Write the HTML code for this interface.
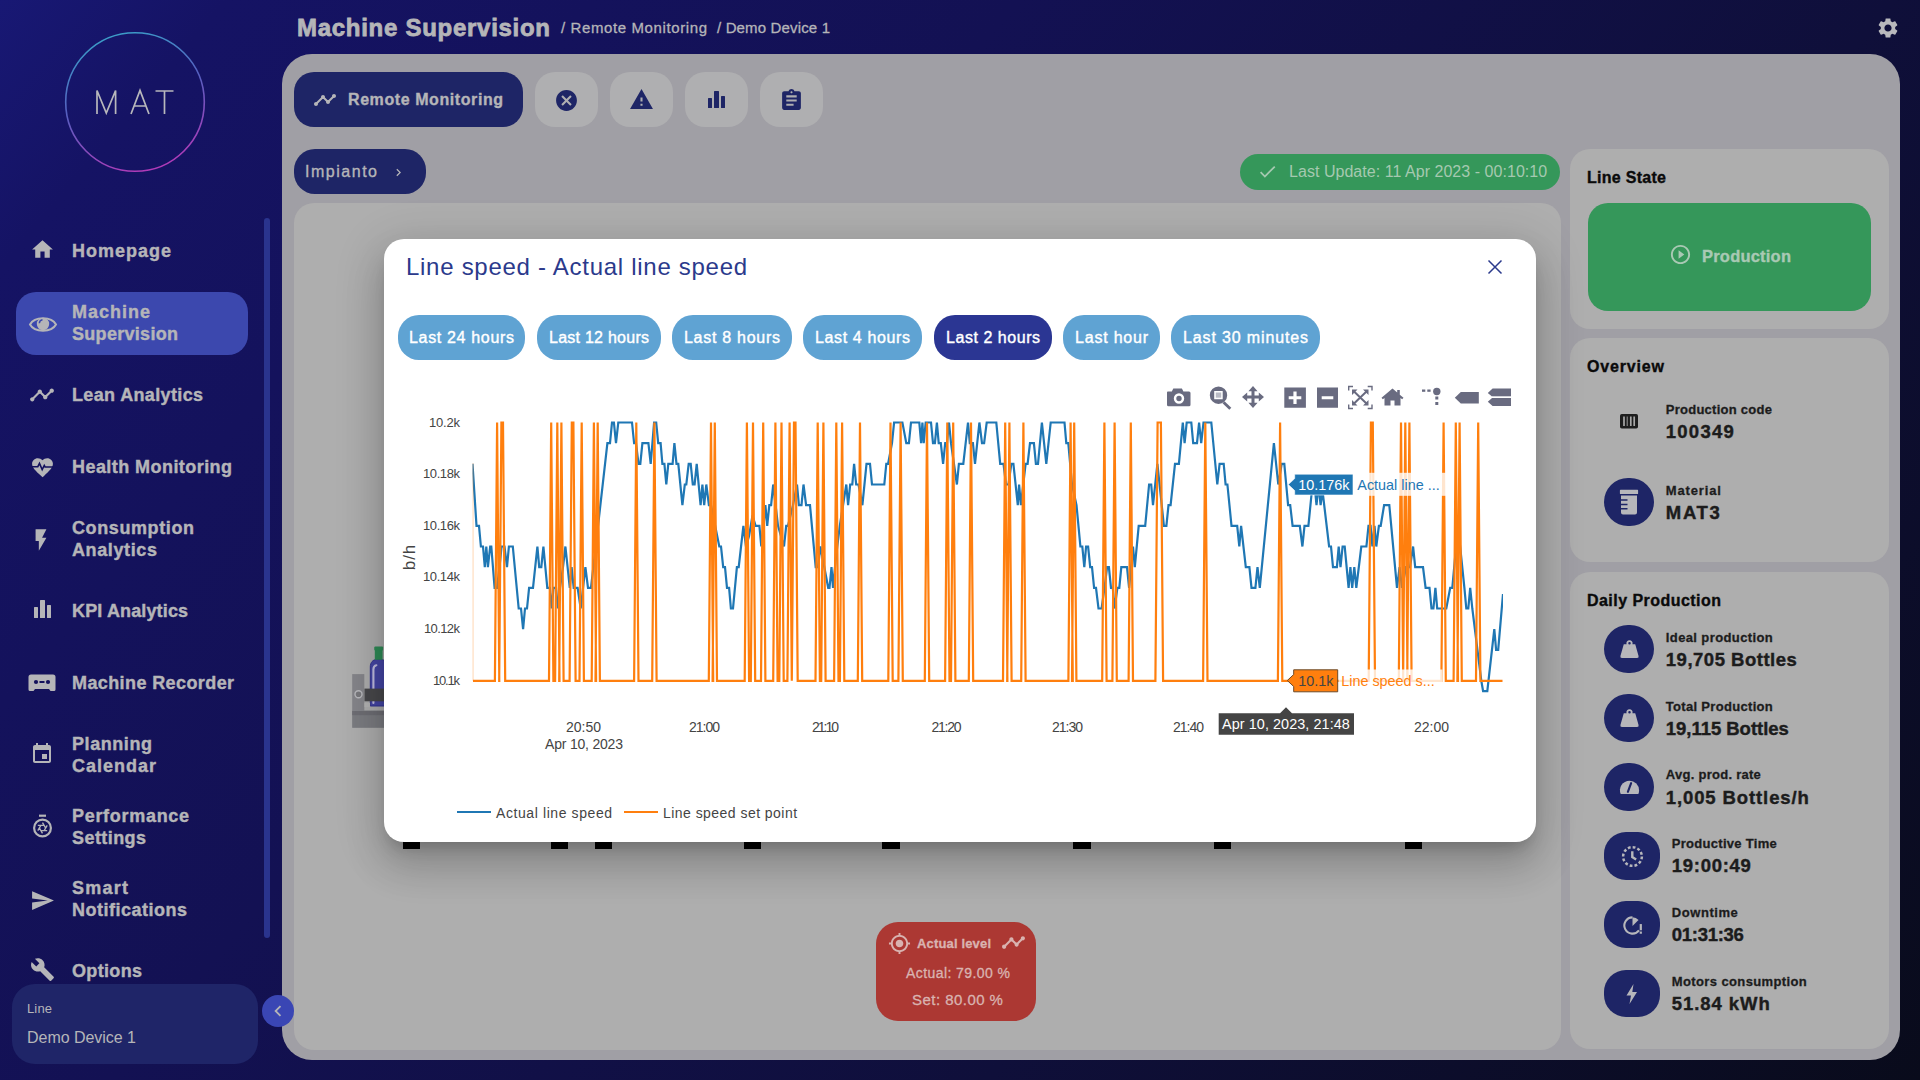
<!DOCTYPE html><html><head><meta charset="utf-8"><title>Machine Supervision</title>
<style>
html,body{margin:0;padding:0}
body{width:1920px;height:1080px;overflow:hidden;position:relative;font-family:"Liberation Sans",sans-serif;
background:linear-gradient(130deg,#181874 0%,#151364 8%,#14125c 21%,#131153 36%,#0f0f3a 67%,#090b1b 100%);}
div{box-sizing:border-box}
svg{display:block;overflow:visible}
</style></head><body>
<svg style="position:absolute;left:60px;top:27px" width="150" height="150" viewBox="0 0 150 150">
<defs><linearGradient id="lg" x1="0.3" y1="0" x2="0.6" y2="1"><stop offset="0" stop-color="#3aa0c8"/><stop offset="0.45" stop-color="#5560c0"/><stop offset="1" stop-color="#b23ab8"/></linearGradient></defs>
<circle cx="75" cy="75" r="69.3" fill="none" stroke="url(#lg)" stroke-width="1.6"/>
<g fill="none" stroke="#b8b8bc" stroke-width="1.7" stroke-linecap="butt" stroke-linejoin="miter">
<path d="M37 87V63.5l9.3 22.5 9.3-22.5V87"/>
<path d="M71 87l9-23.5 9 23.5M74.3 79h11.4"/>
<path d="M95.5 64h18M104.5 64v23"/>
</g></svg>
<div style="position:absolute;left:16px;top:292px;width:232px;height:63px;background:#3c48ae;border-radius:20px;"></div>
<div style="position:absolute;top:240.2px;height:23px;line-height:23px;font-size:18px;color:#b5b5b8;white-space:nowrap;font-weight:bold;-webkit-text-stroke:0.40px #b5b5b8;letter-spacing:1.00px;left:72.0px;">Homepage</div>
<svg style="position:absolute;left:29.5px;top:237.0px;" width="25" height="25" viewBox="0 0 24 24"><path fill="#b5b5b8" d="M10 20v-6h4v6h5v-8h3L12 3 2 12h3v8z"/></svg>
<div style="position:absolute;top:301.2px;height:23px;line-height:23px;font-size:18px;color:#b5b5b8;white-space:nowrap;font-weight:bold;-webkit-text-stroke:0.40px #b5b5b8;letter-spacing:1.00px;left:72.0px;">Machine</div>
<div style="position:absolute;top:323.2px;height:23px;line-height:23px;font-size:18px;color:#b5b5b8;white-space:nowrap;font-weight:bold;-webkit-text-stroke:0.40px #b5b5b8;letter-spacing:0.30px;left:72.0px;">Supervision</div>
<svg style="position:absolute;left:28px;top:314px" width="30" height="21" viewBox="0 0 30 21"><path d="M2 10.500C6.500 2.300 23.500 2.300 28 10.500C23.500 18.700 6.500 18.700 2 10.500Z" fill="none" stroke="#b5b5b8" stroke-width="2"/><circle cx="15" cy="10" r="6.200" fill="#b5b5b8"/><path d="M11.300 9.200a3.800 3.800 0 0 1 3.200-3.400" fill="none" stroke="#3c48ae" stroke-width="1.500"/></svg>
<div style="position:absolute;top:384.2px;height:23px;line-height:23px;font-size:18px;color:#b5b5b8;white-space:nowrap;font-weight:bold;-webkit-text-stroke:0.40px #b5b5b8;letter-spacing:0.36px;left:72.0px;">Lean Analytics</div>
<svg style="position:absolute;left:29.0px;top:382.0px;" width="26" height="26" viewBox="0 0 24 24"><path fill="#b5b5b8" d="M23 8c0 1.1-.9 2-2 2-.18 0-.35-.02-.51-.07l-3.56 3.55c.05.16.07.34.07.52 0 1.1-.9 2-2 2s-2-.9-2-2c0-.18.02-.36.07-.52l-2.55-2.55c-.16.05-.34.07-.52.07s-.36-.02-.52-.07l-4.55 4.56c.05.16.07.33.07.51 0 1.1-.9 2-2 2s-2-.9-2-2 .9-2 2-2c.18 0 .35.02.51.07l4.56-4.55C8.02 9.36 8 9.18 8 9c0-1.1.9-2 2-2s2 .9 2 2c0 .18-.02.36-.07.52l2.55 2.55c.16-.05.34-.07.52-.07s.36.02.52.07l3.55-3.56C19.02 8.35 19 8.18 19 8c0-1.1.9-2 2-2s2 .9 2 2z"/></svg>
<div style="position:absolute;top:456.2px;height:23px;line-height:23px;font-size:18px;color:#b5b5b8;white-space:nowrap;font-weight:bold;-webkit-text-stroke:0.40px #b5b5b8;letter-spacing:0.44px;left:72.0px;">Health Monitoring</div>
<svg style="position:absolute;left:29.5px;top:455.0px;" width="25" height="25" viewBox="0 0 24 24"><path fill="#b5b5b8" d="M12 21.35l-1.45-1.32C5.4 15.36 2 12.28 2 8.5 2 5.42 4.42 3 7.5 3c1.74 0 3.41.81 4.5 2.09C13.09 3.81 14.76 3 16.5 3 19.58 3 22 5.42 22 8.5c0 3.78-3.4 6.86-8.55 11.54L12 21.35z"/></svg>
<div style="position:absolute;top:517.2px;height:23px;line-height:23px;font-size:18px;color:#b5b5b8;white-space:nowrap;font-weight:bold;-webkit-text-stroke:0.40px #b5b5b8;letter-spacing:0.60px;left:72.0px;">Consumption</div>
<div style="position:absolute;top:539.2px;height:23px;line-height:23px;font-size:18px;color:#b5b5b8;white-space:nowrap;font-weight:bold;-webkit-text-stroke:0.40px #b5b5b8;letter-spacing:0.62px;left:72.0px;">Analytics</div>
<svg style="position:absolute;left:28.0px;top:527.0px;" width="26" height="26" viewBox="0 0 24 24"><path fill="#b5b5b8" d="M7 2v11h3v9l7-12h-4l4-8z"/></svg>
<div style="position:absolute;top:600.2px;height:23px;line-height:23px;font-size:18px;color:#b5b5b8;white-space:nowrap;font-weight:bold;-webkit-text-stroke:0.40px #b5b5b8;letter-spacing:0.14px;left:72.0px;">KPI Analytics</div>
<div style="position:absolute;left:34.3px;top:607.3px;width:4.100000000000001px;height:10.400000000000091px;background:#b5b5b8;border-radius:0.5px;"></div><div style="position:absolute;left:40.2px;top:600.3px;width:4.5px;height:17.40000000000009px;background:#b5b5b8;border-radius:0.5px;"></div><div style="position:absolute;left:46.6px;top:605.3px;width:4.199999999999996px;height:12.400000000000091px;background:#b5b5b8;border-radius:0.5px;"></div>
<div style="position:absolute;top:672.2px;height:23px;line-height:23px;font-size:18px;color:#b5b5b8;white-space:nowrap;font-weight:bold;-webkit-text-stroke:0.40px #b5b5b8;letter-spacing:0.40px;left:72.0px;">Machine Recorder</div>
<div style="position:absolute;top:733.2px;height:23px;line-height:23px;font-size:18px;color:#b5b5b8;white-space:nowrap;font-weight:bold;-webkit-text-stroke:0.40px #b5b5b8;letter-spacing:0.57px;left:72.0px;">Planning</div>
<div style="position:absolute;top:755.2px;height:23px;line-height:23px;font-size:18px;color:#b5b5b8;white-space:nowrap;font-weight:bold;-webkit-text-stroke:0.40px #b5b5b8;letter-spacing:1.00px;left:72.0px;">Calendar</div>
<svg style="position:absolute;left:30.0px;top:742.0px;" width="24" height="24" viewBox="0 0 24 24"><path fill="#b5b5b8" d="M17 12h-5v5h5v-5zM16 1v2H8V1H6v2H5c-1.11 0-1.99.9-1.99 2L3 19c0 1.1.89 2 2 2h14c1.1 0 2-.9 2-2V5c0-1.1-.9-2-2-2h-1V1h-2zm3 18H5V8h14v11z"/></svg>
<div style="position:absolute;top:805.2px;height:23px;line-height:23px;font-size:18px;color:#b5b5b8;white-space:nowrap;font-weight:bold;-webkit-text-stroke:0.40px #b5b5b8;letter-spacing:0.70px;left:72.0px;">Performance</div>
<div style="position:absolute;top:827.2px;height:23px;line-height:23px;font-size:18px;color:#b5b5b8;white-space:nowrap;font-weight:bold;-webkit-text-stroke:0.40px #b5b5b8;letter-spacing:0.43px;left:72.0px;">Settings</div>
<div style="position:absolute;top:877.2px;height:23px;line-height:23px;font-size:18px;color:#b5b5b8;white-space:nowrap;font-weight:bold;-webkit-text-stroke:0.40px #b5b5b8;letter-spacing:1.24px;left:72.0px;">Smart</div>
<div style="position:absolute;top:899.2px;height:23px;line-height:23px;font-size:18px;color:#b5b5b8;white-space:nowrap;font-weight:bold;-webkit-text-stroke:0.40px #b5b5b8;letter-spacing:0.50px;left:72.0px;">Notifications</div>
<svg style="position:absolute;left:30.0px;top:888.0px;" width="25" height="25" viewBox="0 0 24 24"><path fill="#b5b5b8" d="M2.01 21L23 12 2.01 3 2 10l15 2-15 2z"/></svg>
<div style="position:absolute;top:960.2px;height:23px;line-height:23px;font-size:18px;color:#b5b5b8;white-space:nowrap;font-weight:bold;-webkit-text-stroke:0.40px #b5b5b8;letter-spacing:0.33px;left:72.0px;">Options</div>
<svg style="position:absolute;left:30.0px;top:957.0px;" width="25" height="25" viewBox="0 0 24 24"><path fill="#b5b5b8" d="M22.7 19l-9.1-9.1c.9-2.3.4-5-1.5-6.9-2-2-5-2.4-7.4-1.3L9 6 6 9 1.6 4.7C.4 7.1.9 10.1 2.9 12.1c1.9 1.9 4.6 2.4 6.9 1.5l9.1 9.1c.4.4 1 .4 1.4 0l2.3-2.3c.5-.4.5-1.1.1-1.4z"/></svg>
<svg style="position:absolute;left:30px;top:455px" width="25" height="25" viewBox="0 0 24 24"><path d="M1.5 11.2h6l1.6-3.2 2.6 6 2-4 .9 1.6h7.5" fill="none" stroke="#13115c" stroke-width="1.5"/></svg>
<svg style="position:absolute;left:28px;top:673px" width="28" height="20" viewBox="0 0 28 20">
<path fill="#b5b5b8" d="M3 1.5h22a2.5 2.5 0 0 1 2.500 2.500v12.500a1.500 1.500 0 0 1-1.500 1.500h-3.500l-1.500-2h-14l-1.500 2H2a1.500 1.500 0 0 1-1.500-1.500V4a2.500 2.500 0 0 1 2.500-2.500z"/>
<circle cx="8" cy="9" r="2.100" fill="#13115c"/><circle cx="20" cy="9" r="2.100" fill="#13115c"/><rect x="11.500" y="8" width="5" height="2" fill="#13115c"/></svg>
<svg style="position:absolute;left:31px;top:814px" width="23" height="25" viewBox="0 0 23 25"><g fill="none" stroke="#b5b5b8">
<circle cx="11.500" cy="14" r="8.400" stroke-width="2.200"/><path d="M8 1.700h7" stroke-width="2.200"/>
<path d="M11.500 8.600l2.900 5M16.200 11.300l-2.900 5M16.200 16.700h-5.800M11.500 19.400l-2.900-5M6.800 16.700l2.900-5M6.800 11.300h5.800" stroke-width="1.300"/></g></svg>
<div style="position:absolute;left:264px;top:218px;width:6px;height:720px;background:#2a348e;border-radius:3px;"></div>
<div style="position:absolute;left:12px;top:984px;width:246px;height:80px;background:#1f2568;border-radius:23px;"></div>
<div style="position:absolute;top:999.5px;height:17px;line-height:17px;font-size:13px;color:#b5b5b8;white-space:nowrap;letter-spacing:0.14px;left:27.0px;">Line</div>
<div style="position:absolute;top:1026.5px;height:21px;line-height:21px;font-size:16px;color:#b5b5b8;white-space:nowrap;letter-spacing:-0.03px;left:27.0px;">Demo Device 1</div>
<div style="position:absolute;top:11.5px;height:31px;line-height:31px;font-size:24px;color:#b5b5b8;white-space:nowrap;font-weight:bold;-webkit-text-stroke:0.53px #b5b5b8;letter-spacing:0.72px;left:297.0px;-webkit-text-stroke:0.8px #b5b5b8;">Machine Supervision</div>
<div style="position:absolute;top:18.0px;height:20px;line-height:20px;font-size:15px;color:#b5b5b8;white-space:nowrap;letter-spacing:0.61px;left:561.0px;-webkit-text-stroke:0.3px #b5b5b8;">/ Remote Monitoring</div>
<div style="position:absolute;top:18.0px;height:20px;line-height:20px;font-size:15px;color:#b5b5b8;white-space:nowrap;letter-spacing:0.15px;left:717.0px;-webkit-text-stroke:0.3px #b5b5b8;">/ Demo Device 1</div>
<svg style="position:absolute;left:1876.0px;top:16.0px;" width="24" height="24" viewBox="0 0 24 24"><path fill="#b9b9bd" d="M19.14 12.94c.04-.3.06-.61.06-.94 0-.32-.02-.64-.07-.94l2.03-1.58c.18-.14.23-.41.12-.61l-1.92-3.32c-.12-.22-.37-.29-.59-.22l-2.39.96c-.5-.38-1.03-.7-1.62-.94l-.36-2.54c-.04-.24-.24-.41-.48-.41h-3.84c-.24 0-.43.17-.47.41l-.36 2.54c-.59.24-1.13.57-1.62.94l-2.39-.96c-.22-.08-.47 0-.59.22L2.74 8.87c-.12.21-.08.47.12.61l2.03 1.58c-.05.3-.09.63-.09.94s.02.64.07.94l-2.03 1.58c-.18.14-.23.41-.12.61l1.92 3.32c.12.22.37.29.59.22l2.39-.96c.5.38 1.03.7 1.62.94l.36 2.54c.05.24.24.41.48.41h3.84c.24 0 .44-.17.47-.41l.36-2.54c.59-.24 1.13-.56 1.62-.94l2.39.96c.22.08.47 0 .59-.22l1.92-3.32c.12-.22.07-.47-.12-.61l-2.01-1.58zM12 15.6c-1.98 0-3.6-1.62-3.6-3.6s1.62-3.6 3.6-3.6 3.6 1.62 3.6 3.6-1.62 3.6-3.6 3.6z"/></svg>
<div style="position:absolute;left:282px;top:54px;width:1618px;height:1006px;background:#a09fa5;border-radius:30px;"></div>
<div style="position:absolute;left:262px;top:995px;width:32px;height:32px;background:#3a46b4;border-radius:16px;"></div>
<svg style="position:absolute;left:266.5px;top:1000.0px;" width="22" height="22" viewBox="0 0 24 24"><path fill="#b5b5b8" d="M15.41 7.41L14 6l-6 6 6 6 1.41-1.41L10.83 12z"/></svg>
<div style="position:absolute;left:294px;top:72px;width:229px;height:55px;background:#1e2566;border-radius:20px;"></div>
<svg style="position:absolute;left:313.0px;top:87.5px;" width="24" height="24" viewBox="0 0 24 24"><path fill="#b5b5b8" d="M23 8c0 1.1-.9 2-2 2-.18 0-.35-.02-.51-.07l-3.56 3.55c.05.16.07.34.07.52 0 1.1-.9 2-2 2s-2-.9-2-2c0-.18.02-.36.07-.52l-2.55-2.55c-.16.05-.34.07-.52.07s-.36-.02-.52-.07l-4.55 4.56c.05.16.07.33.07.51 0 1.1-.9 2-2 2s-2-.9-2-2 .9-2 2-2c.18 0 .35.02.51.07l4.56-4.55C8.02 9.36 8 9.18 8 9c0-1.1.9-2 2-2s2 .9 2 2c0 .18-.02.36-.07.52l2.55 2.55c.16-.05.34-.07.52-.07s.36.02.52.07l3.55-3.56C19.02 8.35 19 8.18 19 8c0-1.1.9-2 2-2s2 .9 2 2z"/></svg>
<div style="position:absolute;top:89.0px;height:21px;line-height:21px;font-size:16px;color:#b5b5b8;white-space:nowrap;font-weight:bold;-webkit-text-stroke:0.35px #b5b5b8;letter-spacing:0.58px;left:348.0px;">Remote Monitoring</div>
<div style="position:absolute;left:535px;top:72px;width:63px;height:55px;background:#afafb1;border-radius:20px;"></div>
<svg style="position:absolute;left:554.0px;top:87.5px;" width="25" height="25" viewBox="0 0 24 24"><path fill="#1e2566" d="M12 2C6.47 2 2 6.47 2 12s4.47 10 10 10 10-4.47 10-10S17.53 2 12 2zm5 13.59L15.59 17 12 13.41 8.41 17 7 15.59 10.59 12 7 8.41 8.41 7 12 10.59 15.59 7 17 8.41 13.41 12 17 15.59z"/></svg>
<div style="position:absolute;left:610px;top:72px;width:63px;height:55px;background:#afafb1;border-radius:20px;"></div>
<svg style="position:absolute;left:629.0px;top:87.0px;" width="25" height="25" viewBox="0 0 24 24"><path fill="#1e2566" d="M1 21h22L12 2 1 21zm12-3h-2v-2h2v2zm0-4h-2v-4h2v4z"/></svg>
<div style="position:absolute;left:685px;top:72px;width:63px;height:55px;background:#afafb1;border-radius:20px;"></div>
<div style="position:absolute;left:708.3px;top:97.7px;width:4.100000000000023px;height:10.399999999999991px;background:#1e2566;border-radius:0.5px;"></div><div style="position:absolute;left:714.2px;top:90.7px;width:4.5px;height:17.39999999999999px;background:#1e2566;border-radius:0.5px;"></div><div style="position:absolute;left:720.6px;top:95.7px;width:4.199999999999932px;height:12.399999999999991px;background:#1e2566;border-radius:0.5px;"></div>
<div style="position:absolute;left:760px;top:72px;width:63px;height:55px;background:#afafb1;border-radius:20px;"></div>
<svg style="position:absolute;left:779.0px;top:87.5px;" width="25" height="25" viewBox="0 0 24 24"><path fill="#1e2566" d="M19 3h-4.18C14.4 1.84 13.3 1 12 1c-1.3 0-2.4.84-2.82 2H5c-1.1 0-2 .9-2 2v14c0 1.1.9 2 2 2h14c1.1 0 2-.9 2-2V5c0-1.1-.9-2-2-2zm-7 0c.55 0 1 .45 1 1s-.45 1-1 1-1-.45-1-1 .45-1 1-1zm2 14H7v-2h7v2zm3-4H7v-2h10v2zm0-4H7V7h10v2z"/></svg>
<div style="position:absolute;left:294px;top:149px;width:132px;height:45px;background:#1e2566;border-radius:21px;"></div>
<div style="position:absolute;top:161.0px;height:21px;line-height:21px;font-size:16px;color:#b5b5b8;white-space:nowrap;letter-spacing:1.52px;left:305.0px;-webkit-text-stroke:0.35px #b5b5b8;">Impianto</div>
<svg style="position:absolute;left:390.5px;top:164.5px;" width="15" height="15" viewBox="0 0 24 24"><path fill="#b5b5b8" d="M10 6L8.59 7.41 13.17 12l-4.58 4.59L10 18l6-6z"/></svg>
<div style="position:absolute;left:1240px;top:154px;width:320px;height:36px;background:#35975a;border-radius:18px;"></div>
<svg style="position:absolute;left:1256.5px;top:161.0px;" width="21" height="21" viewBox="0 0 24 24"><path fill="#a5c9b0" d="M9 16.17L4.83 12l-1.42 1.41L9 19 21 7l-1.41-1.41z"/></svg>
<div style="position:absolute;top:160.5px;height:21px;line-height:21px;font-size:16px;color:#a5c9b0;white-space:nowrap;letter-spacing:0.04px;left:1289.0px;">Last Update: 11 Apr 2023 - 00:10:10</div>
<div style="position:absolute;left:294px;top:203px;width:1267px;height:847px;background:#aeaeae;border-radius:20px;"></div>
<svg style="position:absolute;left:352px;top:640px;overflow:hidden" width="32" height="92" viewBox="352 640 32 92">
<rect x="352.200" y="674.100" width="12.100" height="36.600" fill="#85858a"/>
<rect x="352.200" y="710.500" width="32" height="17.300" fill="#7b7c81"/>
<rect x="352.200" y="711" width="32" height="4.200" fill="#6e6e74"/>
<path d="M370.300 706V667c0-4.500 2.500-7.500 6.500-7.500h4c4 0 6.500 3 6.500 7.500V706z" fill="#4546a5" stroke="#33348f" stroke-width="1"/>
<path d="M373.400 703V669.500c0-2.500 1.200-4 3-4.300" fill="none" stroke="#c0bee0" stroke-width="2.100" stroke-linecap="round"/>
<rect x="374.800" y="648" width="7.800" height="11.800" fill="#2f8c57"/><rect x="374.300" y="646.600" width="8.800" height="4" rx="1" fill="#2f8c57"/>
<rect x="364.500" y="688.600" width="20" height="12.700" fill="#48484b"/>
<rect x="364.500" y="703" width="5.500" height="4" fill="#b4b4b4"/>
<circle cx="358.500" cy="694.200" r="3.500" fill="#78787c" stroke="#b9b9bd" stroke-width="1.400"/>
</svg>
<div style="position:absolute;left:403px;top:840px;width:17px;height:9px;background:#000;border-radius:0px;"></div>
<div style="position:absolute;left:551px;top:840px;width:17px;height:9px;background:#000;border-radius:0px;"></div>
<div style="position:absolute;left:595px;top:840px;width:17px;height:9px;background:#000;border-radius:0px;"></div>
<div style="position:absolute;left:744px;top:840px;width:17px;height:9px;background:#000;border-radius:0px;"></div>
<div style="position:absolute;left:882px;top:840px;width:18px;height:9px;background:#000;border-radius:0px;"></div>
<div style="position:absolute;left:1073px;top:840px;width:18px;height:9px;background:#000;border-radius:0px;"></div>
<div style="position:absolute;left:1214px;top:840px;width:17px;height:9px;background:#000;border-radius:0px;"></div>
<div style="position:absolute;left:1405px;top:840px;width:17px;height:9px;background:#000;border-radius:0px;"></div>
<div style="position:absolute;left:876px;top:922px;width:160px;height:99px;background:#ac3833;border-radius:22px;"></div>
<svg style="position:absolute;left:887.5px;top:931.5px;" width="23" height="23" viewBox="0 0 24 24"><path fill="#d9b3b0" d="M12 8c-2.21 0-4 1.79-4 4s1.79 4 4 4 4-1.79 4-4-1.79-4-4-4zm8.94 3c-.46-4.17-3.77-7.48-7.94-7.94V1h-2v2.06C6.83 3.52 3.52 6.83 3.06 11H1v2h2.06c.46 4.17 3.77 7.48 7.94 7.94V23h2v-2.06c4.17-.46 7.48-3.77 7.94-7.94H23v-2h-2.06zM12 19c-3.87 0-7-3.13-7-7s3.13-7 7-7 7 3.13 7 7-3.13 7-7 7z"/></svg>
<div style="position:absolute;top:934.5px;height:17px;line-height:17px;font-size:13px;color:#d9b3b0;white-space:nowrap;font-weight:bold;-webkit-text-stroke:0.29px #d9b3b0;letter-spacing:0.16px;left:917.0px;">Actual level</div>
<svg style="position:absolute;left:1000.5px;top:929.5px;" width="25" height="25" viewBox="0 0 24 24"><path fill="#d9b3b0" d="M23 8c0 1.1-.9 2-2 2-.18 0-.35-.02-.51-.07l-3.56 3.55c.05.16.07.34.07.52 0 1.1-.9 2-2 2s-2-.9-2-2c0-.18.02-.36.07-.52l-2.55-2.55c-.16.05-.34.07-.52.07s-.36-.02-.52-.07l-4.55 4.56c.05.16.07.33.07.51 0 1.1-.9 2-2 2s-2-.9-2-2 .9-2 2-2c.18 0 .35.02.51.07l4.56-4.55C8.02 9.36 8 9.18 8 9c0-1.1.9-2 2-2s2 .9 2 2c0 .18-.02.36-.07.52l2.55 2.55c.16-.05.34-.07.52-.07s.36.02.52.07l3.55-3.56C19.02 8.35 19 8.18 19 8c0-1.1.9-2 2-2s2 .9 2 2z"/></svg>
<div style="position:absolute;top:963.5px;height:18px;line-height:18px;font-size:14px;color:#d9b3b0;white-space:nowrap;letter-spacing:0.42px;left:906.0px;-webkit-text-stroke:0.3px #d9b3b0;">Actual: 79.00 %</div>
<div style="position:absolute;top:989.5px;height:20px;line-height:20px;font-size:15px;color:#d9b3b0;white-space:nowrap;letter-spacing:0.46px;left:912.0px;-webkit-text-stroke:0.3px #d9b3b0;">Set: 80.00 %</div>
<div style="position:absolute;left:1570px;top:149px;width:319px;height:180px;background:#aeaeae;border-radius:20px;"></div>
<div style="position:absolute;left:1570px;top:338px;width:319px;height:224px;background:#aeaeae;border-radius:20px;"></div>
<div style="position:absolute;left:1570px;top:572px;width:319px;height:477px;background:#aeaeae;border-radius:20px;"></div>
<div style="position:absolute;top:167.0px;height:21px;line-height:21px;font-size:16px;color:#0a0a0a;white-space:nowrap;font-weight:bold;-webkit-text-stroke:0.35px #0a0a0a;letter-spacing:0.28px;left:1587.0px;">Line State</div>
<div style="position:absolute;top:356.0px;height:21px;line-height:21px;font-size:16px;color:#0a0a0a;white-space:nowrap;font-weight:bold;-webkit-text-stroke:0.35px #0a0a0a;letter-spacing:0.83px;left:1587.0px;">Overview</div>
<div style="position:absolute;top:590.0px;height:21px;line-height:21px;font-size:16px;color:#0a0a0a;white-space:nowrap;font-weight:bold;-webkit-text-stroke:0.35px #0a0a0a;letter-spacing:0.46px;left:1587.0px;">Daily Production</div>
<div style="position:absolute;left:1588px;top:203px;width:283px;height:108px;background:#35975a;border-radius:20px;"></div>
<svg style="position:absolute;left:1668.5px;top:243.0px;" width="23" height="23" viewBox="0 0 24 24"><path fill="#a9c9b4" d="M10 16.5l6-4.5-6-4.5v9zM12 2C6.48 2 2 6.48 2 12s4.48 10 10 10 10-4.48 10-10S17.52 2 12 2zm0 18c-4.41 0-8-3.59-8-8s3.59-8 8-8 8 3.59 8 8-3.59 8-8 8z"/></svg>
<div style="position:absolute;top:246.0px;height:21px;line-height:21px;font-size:16.5px;color:#a9c9b4;white-space:nowrap;font-weight:bold;-webkit-text-stroke:0.36px #a9c9b4;letter-spacing:0.21px;left:1702.0px;">Production</div>
<div style="position:absolute;top:400.8px;height:17px;line-height:17px;font-size:13px;color:#1c1c1c;white-space:nowrap;font-weight:bold;-webkit-text-stroke:0.29px #1c1c1c;letter-spacing:0.25px;left:1665.8px;">Production code</div>
<div style="position:absolute;top:420.0px;height:24px;line-height:24px;font-size:18.5px;color:#1c1c1c;white-space:nowrap;font-weight:bold;-webkit-text-stroke:0.41px #1c1c1c;letter-spacing:1.25px;left:1665.8px;">100349</div>
<div style="position:absolute;top:481.8px;height:17px;line-height:17px;font-size:13px;color:#1c1c1c;white-space:nowrap;font-weight:bold;-webkit-text-stroke:0.29px #1c1c1c;letter-spacing:0.84px;left:1665.8px;">Material</div>
<div style="position:absolute;top:501.0px;height:24px;line-height:24px;font-size:18.5px;color:#1c1c1c;white-space:nowrap;font-weight:bold;-webkit-text-stroke:0.41px #1c1c1c;letter-spacing:1.67px;left:1665.8px;">MAT3</div>
<div style="position:absolute;left:1604px;top:478px;width:50px;height:48px;background:#1e2566;border-radius:24px;"></div>
<svg style="position:absolute;left:1617px;top:488px" width="24" height="28" viewBox="0 0 24 28"><path fill="#b7b7bb" d="M3.500 1.800h17a.600.600 0 0 1 .600.600v3a.600.600 0 0 1-.600.600h-17a.600.600 0 0 1-.600-.600v-3a.600.600 0 0 1 .600-.600zM4 7.400h16v17a2 2 0 0 1-2 2H6a2 2 0 0 1-2-2z"/><path d="M4 12h6.500M4 16.400h6.500M4 20.700h6.500" stroke="#1e2566" stroke-width="1.500"/></svg>
<div style="position:absolute;top:628.8px;height:17px;line-height:17px;font-size:13px;color:#1c1c1c;white-space:nowrap;font-weight:bold;-webkit-text-stroke:0.29px #1c1c1c;letter-spacing:0.39px;left:1665.8px;">Ideal production</div>
<div style="position:absolute;top:648.0px;height:24px;line-height:24px;font-size:18.5px;color:#1c1c1c;white-space:nowrap;font-weight:bold;-webkit-text-stroke:0.41px #1c1c1c;letter-spacing:0.51px;left:1665.8px;">19,705 Bottles</div>
<div style="position:absolute;left:1604px;top:625px;width:50px;height:48px;background:#1e2566;border-radius:24px;"></div>
<svg style="position:absolute;left:1616.5px;top:637.2px;" width="25" height="25" viewBox="0 0 24 24"><path fill="#b7b7bb" d="M12 3a3 3 0 0 1 2.830 4H17.500l3.200 11.200a1.500 1.500 0 0 1-1.450 1.900H4.750a1.500 1.500 0 0 1-1.450-1.900L6.500 7h2.670A3 3 0 0 1 12 3zm0 1.800a1.200 1.200 0 1 0 0 2.400 1.200 1.200 0 0 0 0-2.400z"/></svg>
<div style="position:absolute;top:697.6px;height:17px;line-height:17px;font-size:13px;color:#1c1c1c;white-space:nowrap;font-weight:bold;-webkit-text-stroke:0.29px #1c1c1c;letter-spacing:0.31px;left:1665.8px;">Total Production</div>
<div style="position:absolute;top:716.8px;height:24px;line-height:24px;font-size:18.5px;color:#1c1c1c;white-space:nowrap;font-weight:bold;-webkit-text-stroke:0.41px #1c1c1c;letter-spacing:-0.03px;left:1665.8px;">19,115 Bottles</div>
<div style="position:absolute;left:1604px;top:693.8px;width:50px;height:48.0px;background:#1e2566;border-radius:24px;"></div>
<svg style="position:absolute;left:1616.5px;top:706.0px;" width="25" height="25" viewBox="0 0 24 24"><path fill="#b7b7bb" d="M12 3a3 3 0 0 1 2.830 4H17.500l3.200 11.200a1.500 1.500 0 0 1-1.450 1.900H4.750a1.500 1.500 0 0 1-1.450-1.900L6.500 7h2.670A3 3 0 0 1 12 3zm0 1.800a1.200 1.200 0 1 0 0 2.400 1.200 1.200 0 0 0 0-2.400z"/></svg>
<div style="position:absolute;top:766.4px;height:17px;line-height:17px;font-size:13px;color:#1c1c1c;white-space:nowrap;font-weight:bold;-webkit-text-stroke:0.29px #1c1c1c;letter-spacing:0.27px;left:1665.8px;">Avg. prod. rate</div>
<div style="position:absolute;top:785.6px;height:24px;line-height:24px;font-size:18.5px;color:#1c1c1c;white-space:nowrap;font-weight:bold;-webkit-text-stroke:0.41px #1c1c1c;letter-spacing:0.89px;left:1665.8px;">1,005 Bottles/h</div>
<div style="position:absolute;left:1604px;top:762.6px;width:50px;height:48.0px;background:#1e2566;border-radius:24px;"></div>
<svg style="position:absolute;left:1617.5px;top:776.1px;" width="23" height="23" viewBox="0 0 24 24"><path fill="#b7b7bb" d="M12 5a10 10 0 0 1 10 10c0 1.400-.3 2.700-.8 3.900H2.800A10 10 0 0 1 12 5z"/><path d="M10.300 16.500l3.400-9" stroke="#1e2566" stroke-width="2.200" stroke-linecap="round"/></svg>
<div style="position:absolute;top:835.2px;height:17px;line-height:17px;font-size:13px;color:#1c1c1c;white-space:nowrap;font-weight:bold;-webkit-text-stroke:0.29px #1c1c1c;letter-spacing:0.29px;left:1671.8px;">Productive Time</div>
<div style="position:absolute;top:854.4px;height:24px;line-height:24px;font-size:18.5px;color:#1c1c1c;white-space:nowrap;font-weight:bold;-webkit-text-stroke:0.41px #1c1c1c;letter-spacing:0.71px;left:1671.8px;">19:00:49</div>
<div style="position:absolute;left:1604px;top:832.0px;width:56.299999999999955px;height:47.60000000000002px;background:#1e2566;border-radius:22px;"></div>
<svg style="position:absolute;left:1619.5px;top:843.5px;" width="25" height="25" viewBox="0 0 24 24"><circle cx="12" cy="12" r="9" fill="none" stroke="#b7b7bb" stroke-width="2.400" stroke-dasharray="2.700 2"/><path d="M11.800 7v5.500l3.700 2.300" fill="none" stroke="#b7b7bb" stroke-width="2.300"/></svg>
<div style="position:absolute;top:904.0px;height:17px;line-height:17px;font-size:13px;color:#1c1c1c;white-space:nowrap;font-weight:bold;-webkit-text-stroke:0.29px #1c1c1c;letter-spacing:0.56px;left:1671.8px;">Downtime</div>
<div style="position:absolute;top:923.2px;height:24px;line-height:24px;font-size:18.5px;color:#1c1c1c;white-space:nowrap;font-weight:bold;-webkit-text-stroke:0.41px #1c1c1c;letter-spacing:-0.29px;left:1671.8px;">01:31:36</div>
<div style="position:absolute;left:1604px;top:900.8000000000001px;width:56.299999999999955px;height:47.60000000000002px;background:#1e2566;border-radius:22px;"></div>
<svg style="position:absolute;left:1620.5px;top:913.7px;" width="23" height="23" viewBox="0 0 24 24"><path d="M12 3.500a8.500 8.500 0 1 0 6.800 13.600" fill="none" stroke="#b7b7bb" stroke-width="2.200"/><path fill="#b7b7bb" d="M12 12.500V3.500a8.500 8.500 0 0 1 6.300 2.800z"/><rect x="19.500" y="10.500" width="2.300" height="6.500" fill="#b7b7bb"/><rect x="19.500" y="18.300" width="2.300" height="2.300" fill="#b7b7bb"/></svg>
<div style="position:absolute;top:972.8px;height:17px;line-height:17px;font-size:13px;color:#1c1c1c;white-space:nowrap;font-weight:bold;-webkit-text-stroke:0.29px #1c1c1c;letter-spacing:0.38px;left:1671.8px;">Motors consumption</div>
<div style="position:absolute;top:992.0px;height:24px;line-height:24px;font-size:18.5px;color:#1c1c1c;white-space:nowrap;font-weight:bold;-webkit-text-stroke:0.41px #1c1c1c;letter-spacing:0.94px;left:1671.8px;">51.84 kWh</div>
<div style="position:absolute;left:1604px;top:969.6px;width:56.299999999999955px;height:47.60000000000002px;background:#1e2566;border-radius:22px;"></div>
<svg style="position:absolute;left:1620.0px;top:982.0px;" width="24" height="24" viewBox="0 0 24 24"><path fill="#b7b7bb" d="M13.500 2L6.500 13.500h4.500L9.500 22l7.500-12h-4.700z"/></svg>
<svg style="position:absolute;left:1620px;top:413.500px" width="18" height="15" viewBox="0 0 18 15"><rect x="0" y="0" width="18" height="14.500" rx="1.800" fill="#1d1d1d"/>
<path d="M4 2.500v9.500M10.800 2.500v9.500M14.200 2.500v9.500" stroke="#a8a8a8" stroke-width="1.700"/><path d="M7.200 2.500v9.500" stroke="#a8a8a8" stroke-width="0.900"/></svg>
<div style="position:absolute;left:384px;top:239px;width:1152px;height:603px;background:#fff;border-radius:20px;box-shadow:0 11px 15px -7px rgba(0,0,0,.2),0 24px 38px 3px rgba(0,0,0,.14),0 9px 46px 8px rgba(0,0,0,.12);"></div>
<div style="position:absolute;top:251.0px;height:31px;line-height:31px;font-size:24px;color:#2b3a8c;white-space:nowrap;letter-spacing:0.72px;left:406.0px;">Line speed - Actual line speed</div>
<svg style="position:absolute;left:1487px;top:259px" width="16" height="16" viewBox="0 0 16 16"><path d="M1.500 1.500l13 13M14.500 1.500l-13 13" stroke="#2b3a8c" stroke-width="1.500" fill="none"/></svg>
<div style="position:absolute;left:398px;top:315px;width:127px;height:45px;background:#5fa3d3;border-radius:21px;"></div>
<div style="position:absolute;top:327.0px;height:21px;line-height:21px;font-size:16px;color:#fff;white-space:nowrap;letter-spacing:0.67px;left:409.0px;-webkit-text-stroke:0.4px #fff;">Last 24 hours</div>
<div style="position:absolute;left:537px;top:315px;width:124px;height:45px;background:#5fa3d3;border-radius:21px;"></div>
<div style="position:absolute;top:327.0px;height:21px;line-height:21px;font-size:16px;color:#fff;white-space:nowrap;letter-spacing:0.25px;left:549.0px;-webkit-text-stroke:0.4px #fff;">Last 12 hours</div>
<div style="position:absolute;left:672px;top:315px;width:120px;height:45px;background:#5fa3d3;border-radius:21px;"></div>
<div style="position:absolute;top:327.0px;height:21px;line-height:21px;font-size:16px;color:#fff;white-space:nowrap;letter-spacing:0.72px;left:684.0px;-webkit-text-stroke:0.4px #fff;">Last 8 hours</div>
<div style="position:absolute;left:803px;top:315px;width:119px;height:45px;background:#5fa3d3;border-radius:21px;"></div>
<div style="position:absolute;top:327.0px;height:21px;line-height:21px;font-size:16px;color:#fff;white-space:nowrap;letter-spacing:0.63px;left:815.0px;-webkit-text-stroke:0.4px #fff;">Last 4 hours</div>
<div style="position:absolute;left:934px;top:315px;width:118px;height:45px;background:#2b3693;border-radius:21px;"></div>
<div style="position:absolute;top:327.0px;height:21px;line-height:21px;font-size:16px;color:#fff;white-space:nowrap;letter-spacing:0.54px;left:946.0px;-webkit-text-stroke:0.4px #fff;">Last 2 hours</div>
<div style="position:absolute;left:1063px;top:315px;width:97px;height:45px;background:#5fa3d3;border-radius:21px;"></div>
<div style="position:absolute;top:327.0px;height:21px;line-height:21px;font-size:16px;color:#fff;white-space:nowrap;letter-spacing:0.79px;left:1075.0px;-webkit-text-stroke:0.4px #fff;">Last hour</div>
<div style="position:absolute;left:1171px;top:315px;width:149px;height:45px;background:#5fa3d3;border-radius:21px;"></div>
<div style="position:absolute;top:327.0px;height:21px;line-height:21px;font-size:16px;color:#fff;white-space:nowrap;letter-spacing:0.86px;left:1183.0px;-webkit-text-stroke:0.4px #fff;">Last 30 minutes</div>
<svg style="position:absolute;left:1160px;top:380px" width="360" height="36" viewBox="0 0 360 36"><g fill="#696b80" stroke="none">
<path d="M7.500 11.500h4.300l1.500-3h8.600l1.500 3h5.600a1.500 1.500 0 0 1 1.500 1.500v11.800a1.500 1.500 0 0 1-1.500 1.500H8.500a1.500 1.500 0 0 1-1.500-1.500V13a1.500 1.500 0 0 1 .5-1.500zM19 13.300a5.200 5.200 0 1 0 0 10.400 5.200 5.200 0 0 0 0-10.400zm0 2.500a2.700 2.700 0 1 1 0 5.400 2.700 2.700 0 0 1 0-5.400z" fill-rule="evenodd"/>
<path d="M58.500 6.500a8.700 8.700 0 1 0 0 17.400 8.700 8.700 0 0 0 0-17.400zm-4.300 4.500h8.500v8.200h-8.500z" fill-rule="evenodd"/><rect x="55.800" y="12.500" width="5.400" height="5.200" opacity=".45"/>
<path d="M64.500 21.300l6.800 6.500-2 2-6.800-6.500z"/>
<path d="M93 6l4.600 5.200h-3.100v4.300h4.300v-3.100l5.200 4.600-5.200 4.600v-3.100h-4.300v4.300h3.100L93 28l-4.600-5.200h3.100v-4.300h-4.300v3.100l-5.200-4.600 5.200-4.600v3.100h4.300v-4.300h-3.100z"/>
<path d="M124.300 7.500h21.600v20.300h-21.600zM133.400 11.500v4.700h-4.700v3h4.700v4.700h3.200v-4.700h4.700v-3h-4.700v-4.700z" fill-rule="evenodd"/>
<path d="M157 7.500h21v20.300h-21zM161.700 16.200v3h11.600v-3z" fill-rule="evenodd"/>
</g>
<g fill="none" stroke="#696b80" stroke-width="1.400"><path d="M188.700 10.500v-4h4.300M207.700 6.500h4.300v4M212 24.500v4h-4.300M193 28.500h-4.300v-4"/>
<path d="M193.500 11l13.500 13M207 11l-13.500 13" stroke-width="2"/></g>
<g fill="#696b80"><path d="M192 9.500h5.500l-5.500 5.500zM208.500 9.500v5.500l-5.500-5.500zM192 25.500v-5.500l5.500 5.500zM208.500 25.500h-5.500l5.500-5.500z"/>
<path d="M232.500 8.500l-11 9.300 1.300 1.500 1.700-1.400v7.600h6v-5h4v5h6v-7.600l1.700 1.400 1.300-1.500-3.700-3.100v-4.700h-2.600v2.500z"/>
<rect x="262" y="9.500" width="3.300" height="2.300"/><rect x="267.300" y="9.500" width="3.300" height="2.300"/><circle cx="276.800" cy="11.500" r="3.700"/>
<rect x="275.300" y="16.500" width="3" height="3"/><rect x="275.300" y="22" width="3" height="3"/>
<path d="M294.800 17.700l6-5.700h18v11.400h-18z"/>
<path d="M327.800 13l4.800-4.500h18.400v8.500h-18.400zM327.800 21.800l4.800-4.200h18.400v8.500h-18.400z"/><rect x="332" y="16.300" width="19.500" height="1.700" fill="#fff"/>
</g></svg>
<div style="position:absolute;top:413.5px;height:17px;line-height:17px;font-size:13px;color:#444;white-space:nowrap;letter-spacing:-0.20px;left:429.0px;">10.2k</div>
<div style="position:absolute;top:465.1px;height:17px;line-height:17px;font-size:13px;color:#444;white-space:nowrap;letter-spacing:-0.41px;left:423.0px;">10.18k</div>
<div style="position:absolute;top:516.7px;height:17px;line-height:17px;font-size:13px;color:#444;white-space:nowrap;letter-spacing:-0.41px;left:423.0px;">10.16k</div>
<div style="position:absolute;top:568.3px;height:17px;line-height:17px;font-size:13px;color:#444;white-space:nowrap;letter-spacing:-0.41px;left:423.0px;">10.14k</div>
<div style="position:absolute;top:619.9px;height:17px;line-height:17px;font-size:13px;color:#444;white-space:nowrap;letter-spacing:-0.61px;left:424.0px;">10.12k</div>
<div style="position:absolute;top:671.5px;height:17px;line-height:17px;font-size:13px;color:#444;white-space:nowrap;letter-spacing:-1.20px;left:433.0px;">10.1k</div>
<div style="position:absolute;left:379.500px;top:547px;width:60px;height:20px;line-height:20px;text-align:center;font-size:17px;color:#444;transform:rotate(-90deg);letter-spacing:1px">b/h</div>
<div style="position:absolute;top:717.7px;height:18px;line-height:18px;font-size:14px;color:#444;white-space:nowrap;letter-spacing:-0.01px;left:566.0px;">20:50</div>
<div style="position:absolute;top:717.7px;height:18px;line-height:18px;font-size:14px;color:#444;white-space:nowrap;letter-spacing:-1.01px;left:689.0px;">21:00</div>
<div style="position:absolute;top:717.7px;height:18px;line-height:18px;font-size:14px;color:#444;white-space:nowrap;letter-spacing:-2.01px;left:812.0px;">21:10</div>
<div style="position:absolute;top:717.7px;height:18px;line-height:18px;font-size:14px;color:#444;white-space:nowrap;letter-spacing:-1.26px;left:931.5px;">21:20</div>
<div style="position:absolute;top:717.7px;height:18px;line-height:18px;font-size:14px;color:#444;white-space:nowrap;letter-spacing:-1.01px;left:1052.0px;">21:30</div>
<div style="position:absolute;top:717.7px;height:18px;line-height:18px;font-size:14px;color:#444;white-space:nowrap;letter-spacing:-1.01px;left:1173.0px;">21:40</div>
<div style="position:absolute;top:734.7px;height:18px;line-height:18px;font-size:14px;color:#444;white-space:nowrap;letter-spacing:-0.20px;left:545.0px;">Apr 10, 2023</div>
<div style="position:absolute;top:718.0px;height:18px;line-height:18px;font-size:14px;color:#444;white-space:nowrap;left:1414.0px;">22:00</div>
<div style="position:absolute;left:457px;top:811px;width:34px;height:2px;background:#1f77b4;border-radius:0px;"></div>
<div style="position:absolute;top:803.5px;height:18px;line-height:18px;font-size:14px;color:#444;white-space:nowrap;letter-spacing:0.59px;left:496.0px;">Actual line speed</div>
<div style="position:absolute;left:624px;top:811px;width:34px;height:2px;background:#ff7f0e;border-radius:0px;"></div>
<div style="position:absolute;top:803.5px;height:18px;line-height:18px;font-size:14px;color:#444;white-space:nowrap;letter-spacing:0.46px;left:663.0px;">Line speed set point</div>
<svg style="position:absolute;left:0;top:0" width="1920" height="1080" viewBox="0 0 1920 1080">
<defs><clipPath id="cp"><rect x="472.500" y="414" width="1030.500" height="284"/></clipPath></defs>
<g clip-path="url(#cp)" fill="none" stroke-width="2.200" stroke-linejoin="miter" stroke-miterlimit="2">
<path d="M472.5,463.8 L476.5,525.8 L479.0,525.8 L480.9,546.5 L483.0,546.5 L484.8,567.2 L486.3,546.5 L487.9,567.2 L490.2,546.5 L491.3,546.5 L494.6,587.8 L497.0,587.8 L499.5,567.2 L501.6,546.5 L504.5,546.5 L507.0,567.2 L508.9,546.5 L512.8,546.5 L518.7,608.5 L521.0,608.5 L523.1,629.1 L525.0,608.5 L527.0,608.5 L529.1,587.8 L533.0,587.8 L537.4,546.5 L539.2,567.2 L541.3,567.2 L543.4,546.5 L547.3,587.8 L549.9,587.8 L551.7,608.5 L553.5,587.8 L556.0,587.8 L558.0,608.5 L560.0,587.8 L563.0,567.2 L565.4,546.5 L569.8,587.8 L571.6,567.2 L573.7,587.8 L577.6,587.8 L580.7,608.5 L585.4,567.2 L588.0,587.8 L591.0,587.8 L607.4,443.2 L610.0,443.2 L612.0,422.5 L613.9,422.5 L616.0,443.2 L618.3,422.5 L632.0,422.5 L634.1,443.2 L636.0,443.2 L638.5,463.8 L640.3,463.8 L642.4,443.2 L648.4,443.2 L650.7,463.8 L654.1,422.5 L656.2,422.5 L658.2,443.2 L660.6,443.2 L662.4,463.8 L664.4,463.8 L666.3,484.5 L668.3,463.8 L672.6,463.8 L674.4,443.2 L676.5,463.8 L678.3,463.8 L682.4,505.2 L684.8,484.5 L686.3,484.5 L688.7,463.8 L690.7,463.8 L692.8,484.5 L694.6,484.5 L696.7,463.8 L700.6,505.2 L702.4,484.5 L704.2,505.2 L706.3,484.5 L708.9,505.2 L711.0,505.2 L719.3,546.5 L721.0,546.5 L723.2,567.2 L725.0,567.2 L727.0,587.8 L729.1,587.8 L730.9,608.5 L733.0,608.5 L736.9,567.2 L738.7,567.2 L743.4,525.8 L746.0,546.5 L749.0,536.2 L752.5,515.5 L755.6,525.8 L759.4,525.8 L761.3,546.5 L763.5,525.8 L765.4,505.2 L767.2,525.8 L769.3,505.2 L771.1,505.2 L773.2,484.5 L778.0,525.8 L784.0,546.5 L786.2,525.8 L788.0,525.8 L793.0,505.2 L797.0,484.5 L798.9,505.2 L801.5,505.2 L803.5,484.5 L806.1,505.2 L810.0,505.2 L815.7,567.2 L818.0,567.2 L820.4,546.5 L828.2,587.8 L829.5,587.8 L831.5,567.2 L833.0,587.8 L836.0,556.8 L839.8,525.8 L846.3,484.5 L848.1,505.2 L850.2,484.5 L852.3,484.5 L854.1,463.8 L856.2,484.5 L858.5,484.5 L862.4,505.2 L866.5,463.8 L870.0,463.8 L872.0,484.5 L884.3,484.5 L886.3,463.8 L888.1,463.8 L892.0,443.2 L894.1,422.5 L902.4,422.5 L906.3,443.2 L908.9,443.2 L911.0,422.5 L919.3,422.5 L921.1,443.2 L922.4,422.5 L923.7,443.2 L925.7,422.5 L931.0,422.5 L933.0,443.2 L934.9,443.2 L936.9,422.5 L938.7,443.2 L940.8,443.2 L943.1,463.8 L945.2,443.2 L947.0,443.2 L949.0,422.5 L951.0,443.2 L956.9,484.5 L958.9,463.8 L963.3,463.8 L968.0,422.5 L969.8,443.2 L972.9,443.2 L975.0,463.8 L979.4,422.5 L982.0,443.2 L984.1,443.2 L986.7,422.5 L996.3,422.5 L1000.2,463.8 L1003.5,463.8 L1006.0,484.5 L1008.5,484.5 L1011.3,463.8 L1013.4,463.8 L1017.8,505.2 L1019.1,484.5 L1020.9,505.2 L1025.6,463.8 L1027.6,463.8 L1030.0,443.2 L1033.9,443.2 L1035.9,463.8 L1038.0,463.8 L1041.9,422.5 L1046.3,463.8 L1050.7,422.5 L1064.5,422.5 L1066.3,443.2 L1068.3,443.2 L1072.0,484.5 L1076.5,505.2 L1080.4,546.5 L1082.3,546.5 L1084.3,567.2 L1086.1,546.5 L1088.1,546.5 L1090.2,567.2 L1092.0,567.2 L1094.1,587.8 L1096.0,587.8 L1098.5,608.5 L1101.6,608.5 L1104.5,587.8 L1107.1,567.2 L1108.9,567.2 L1111.0,587.8 L1112.8,587.8 L1114.6,608.5 L1117.4,587.8 L1119.3,587.8 L1121.3,567.2 L1127.0,567.2 L1129.1,587.8 L1133.0,546.5 L1134.8,567.2 L1138.7,525.8 L1145.2,525.8 L1149.1,484.5 L1151.2,484.5 L1153.0,505.2 L1157.4,463.8 L1163.9,525.8 L1166.4,525.8 L1168.5,505.2 L1170.6,505.2 L1175.0,463.8 L1178.9,463.8 L1182.8,422.5 L1184.6,443.2 L1186.7,422.5 L1191.3,422.5 L1193.2,443.2 L1197.0,443.2 L1199.1,422.5 L1201.2,443.2 L1203.5,422.5 L1211.3,422.5 L1217.3,484.5 L1219.6,463.8 L1223.7,463.8 L1225.6,484.5 L1227.4,484.5 L1231.5,525.8 L1237.2,525.8 L1239.3,546.5 L1241.1,525.8 L1245.8,567.2 L1249.4,567.2 L1251.5,587.8 L1255.4,587.8 L1257.5,567.2 L1259.8,587.8 L1273.9,443.2 L1278.3,484.5 L1281.7,463.8 L1284.3,463.8 L1288.1,505.2 L1290.2,505.2 L1292.6,525.8 L1299.8,525.8 L1302.4,546.5 L1304.5,525.8 L1308.4,525.8 L1312.5,484.5 L1314.5,484.5 L1316.5,505.2 L1318.5,484.5 L1320.6,505.2 L1322.5,490.7 L1329.1,546.5 L1331.0,546.5 L1333.0,567.2 L1336.9,567.2 L1338.7,546.5 L1340.5,567.2 L1342.6,546.5 L1344.7,546.5 L1348.6,587.8 L1350.4,567.2 L1352.2,587.8 L1354.3,567.2 L1356.3,587.8 L1361.3,546.5 L1366.4,546.5 L1368.5,525.8 L1370.6,525.8 L1372.4,546.5 L1374.5,525.8 L1376.3,546.5 L1378.9,525.8 L1380.7,525.8 L1384.1,505.2 L1389.3,505.2 L1397.0,587.8 L1399.6,567.2 L1402.0,587.8 L1406.0,567.2 L1410.0,567.2 L1413.1,546.5 L1415.2,567.2 L1423.0,567.2 L1425.6,587.8 L1429.5,587.8 L1431.5,608.5 L1433.4,608.5 L1435.4,587.8 L1437.2,608.5 L1439.8,608.5 L1446.3,608.5 L1450.2,587.8 L1452.3,587.8 L1458.0,525.8 L1464.4,587.8 L1466.3,608.5 L1468.3,608.5 L1470.2,587.8 L1472.3,608.5 L1481.3,680.8 L1483.1,691.1 L1487.3,691.1 L1494.3,629.1 L1496.1,649.8 L1498.2,649.8 L1503.0,594.0" stroke="#1f77b4"/>
<path d="M473,680.8 L494.9,680.8 L497.1,422.5 L499.3,680.8 L499.2,680.8 L501.4,422.5 L503.0,422.5 L505.2,680.8 L549.0,680.8 L551.2,422.5 L553.4,680.8 L555.1,680.8 L557.3,422.5 L559.5,680.8 L559.2,680.8 L561.4,422.5 L563.6,680.8 L569.6,680.8 L571.8,422.5 L573.4,422.5 L575.6,680.8 L579.5,680.8 L581.7,422.5 L583.9,680.8 L591.7,680.8 L593.9,422.5 L596.1,680.8 L595.5,680.8 L597.7,422.5 L599.9,680.8 L634.1,680.8 L636.3,422.5 L638.5,680.8 L652.2,680.8 L654.4,422.5 L656.6,680.8 L708.8,680.8 L711.0,422.5 L713.2,680.8 L712.6,680.8 L714.8,422.5 L717.0,680.8 L744.7,680.8 L746.9,422.5 L749.1,680.8 L750.8,680.8 L753.0,422.5 L755.2,680.8 L761.0,680.8 L763.2,422.5 L765.4,680.8 L773.2,680.8 L775.4,422.5 L777.6,680.8 L779.3,680.8 L781.5,422.5 L783.7,680.8 L787.4,680.8 L789.6,422.5 L791.8,680.8 L791.8,680.8 L794.0,422.5 L795.5,422.5 L797.7,680.8 L815.5,680.8 L817.7,422.5 L819.9,680.8 L821.2,680.8 L823.4,422.5 L825.6,680.8 L834.1,680.8 L836.3,422.5 L838.5,680.8 L839.9,680.8 L842.1,422.5 L844.3,680.8 L857.8,680.8 L860.0,422.5 L862.2,680.8 L888.3,680.8 L890.5,422.5 L892.7,680.8 L898.4,680.8 L900.6,422.5 L902.8,680.8 L924.8,680.8 L927.0,422.5 L929.2,680.8 L945.1,680.8 L947.3,422.5 L949.5,680.8 L951.0,680.8 L953.2,422.5 L955.4,680.8 L968.8,680.8 L971.0,422.5 L973.2,680.8 L1003.0,680.8 L1005.2,422.5 L1007.4,680.8 L1007.2,680.8 L1009.4,422.5 L1011.6,680.8 L1021.2,680.8 L1023.4,422.5 L1025.6,680.8 L1068.4,680.8 L1070.6,422.5 L1072.8,680.8 L1072.0,680.8 L1074.2,422.5 L1076.4,680.8 L1102.2,680.8 L1104.4,422.5 L1106.6,680.8 L1112.4,680.8 L1114.6,422.5 L1116.8,680.8 L1128.6,680.8 L1130.8,422.5 L1133.0,680.8 L1155.4,680.8 L1157.6,422.5 L1160.9,422.5 L1163.1,680.8 L1203.1,680.8 L1205.3,422.5 L1207.5,680.8 L1277.9,680.8 L1280.1,422.5 L1282.3,680.8 L1368.7,680.8 L1370.9,422.5 L1372.8,422.5 L1375.0,680.8 L1398.8,680.8 L1401.0,422.5 L1403.2,680.8 L1403.1,680.8 L1405.3,422.5 L1407.5,680.8 L1407.2,680.8 L1409.4,422.5 L1411.6,680.8 L1441.4,680.8 L1443.6,422.5 L1445.8,680.8 L1453.6,680.8 L1455.8,422.5 L1458.0,680.8 L1457.4,680.8 L1459.6,422.5 L1461.8,680.8 L1476.0,680.8 L1478.2,422.5 L1480.4,680.8 L1502.500,680.8" stroke="#ff7f0e"/>
<path d="M472.900,463V680.800" stroke="#ff7f0e" stroke-width="1" opacity="0.45"/>
</g>
<rect x="1354" y="472.800" width="92" height="23" fill="#fff" opacity="0.8"/>
<rect x="1338.500" y="669.500" width="104" height="22" fill="#fff" opacity="0.8"/>
<path d="M1288.300,484.600l6.400,-6v-4.400h58.300v20.800h-58.300v-4.400z" fill="#1f77b4" stroke="#fff" stroke-width="0.600"/>
<path d="M1287.300,680.500l6.400,-6v-4.700h44v22h-44v-5.300z" fill="#ff7f0e" stroke="#6b4a2a" stroke-width="1"/>
<path d="M1286,707.300l6,6h62v21.400h-135.300v-21.400h61.300z" fill="#444"/>
</svg>
<div style="position:absolute;top:475.7px;height:19px;line-height:19px;font-size:14.4px;color:#fff;white-space:nowrap;left:1298.3px;">10.176k</div>
<div style="position:absolute;top:475.7px;height:19px;line-height:19px;font-size:14.4px;color:#1f77b4;white-space:nowrap;left:1357.3px;">Actual line ...</div>
<div style="position:absolute;top:672.1px;height:19px;line-height:19px;font-size:14.4px;color:#444;white-space:nowrap;left:1298.3px;">10.1k</div>
<div style="position:absolute;top:672.3px;height:19px;line-height:19px;font-size:14.4px;color:#ff7f0e;white-space:nowrap;left:1341.2px;">Line speed s...</div>
<div style="position:absolute;top:714.5px;height:19px;line-height:19px;font-size:14.4px;color:#fff;white-space:nowrap;letter-spacing:0.08px;left:1222.0px;">Apr 10, 2023, 21:48</div>
</body></html>
